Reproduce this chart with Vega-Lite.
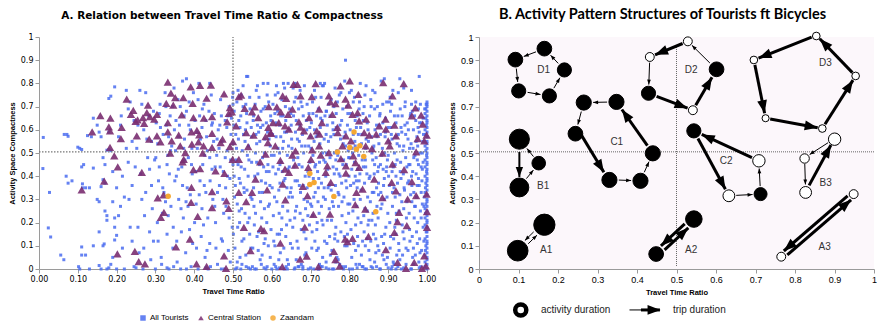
{
"$schema":"https://vega.github.io/schema/vega-lite/v6.json",
"background":"white",
"padding":{"left":8,"top":6,"right":0,"bottom":0},
"spacing":12,
"resolve":{"scale":{"color":"independent","shape":"independent","size":"independent","strokeWidth":"independent","fill":"independent"}},
"config":{"view":{"stroke":null},"axis":{"grid":false,"domainColor":"#9a9a9a","tickColor":"#9a9a9a","tickSize":4,"tickCount":12,"labelOverlap":false,"labelFlush":false,"labelPadding":2,"labelColor":"#000","titleColor":"#000","titleFont":"Liberation Sans","titleFontSize":7.5,"titleFontWeight":"bold","titlePadding":4}},
"datasets":{
"blue":[
{"x":0.011,"y":0.567},{"x":0.010,"y":0.433},{"x":0.027,"y":0.330},{"x":0.024,"y":0.177},{"x":0.030,"y":0.138},{"x":0.056,"y":0.060},{"x":0.064,"y":0.040},{"x":0.065,"y":0.580},{"x":0.072,"y":0.580},{"x":0.075,"y":0.572},{"x":0.070,"y":0.400},{"x":0.075,"y":0.370},{"x":0.085,"y":0.380},{"x":0.100,"y":0.525},{"x":0.105,"y":0.520},{"x":0.110,"y":0.515},{"x":0.110,"y":0.440},{"x":0.115,"y":0.450},{"x":0.112,"y":0.367},{"x":0.112,"y":0.350},{"x":0.102,"y":0.010},{"x":0.105,"y":0.000},{"x":0.110,"y":0.095},{"x":0.110,"y":0.060},{"x":0.120,"y":0.060},{"x":0.130,"y":0.000},{"x":0.125,"y":0.575},{"x":0.130,"y":0.350},{"x":0.140,"y":0.435},{"x":0.140,"y":0.100},{"x":0.150,"y":0.300},{"x":0.155,"y":0.290},{"x":0.155,"y":0.160},{"x":0.160,"y":0.355},{"x":0.165,"y":0.385},{"x":0.170,"y":0.370},{"x":0.170,"y":0.250},{"x":0.175,"y":0.230},{"x":0.175,"y":0.210},{"x":0.165,"y":0.100},{"x":0.168,"y":0.108},{"x":0.155,"y":0.015},{"x":0.160,"y":0.000},{"x":0.175,"y":0.000},{"x":0.180,"y":0.515},{"x":0.185,"y":0.510},{"x":0.175,"y":0.512},{"x":0.180,"y":0.590},{"x":0.150,"y":0.620},{"x":0.155,"y":0.590},{"x":0.140,"y":0.650},{"x":0.180,"y":0.735},{"x":0.185,"y":0.745},{"x":0.195,"y":0.785},{"x":0.190,"y":0.420},{"x":0.190,"y":0.290},{"x":0.195,"y":0.220},{"x":0.195,"y":0.180},{"x":0.195,"y":0.125},{"x":0.190,"y":0.050},{"x":0.185,"y":0.020},{"x":0.180,"y":0.005},{"x":0.200,"y":0.145},{"x":0.200,"y":0.350},{"x":0.170,"y":0.450},{"x":0.165,"y":0.480},{"x":0.160,"y":0.570},{"x":0.135,"y":0.570},{"x":0.120,"y":0.350},
{"x":0.205,"y":0.57},{"x":0.21,"y":0.62},{"x":0.215,"y":0.40},{"x":0.22,"y":0.31},{"x":0.225,"y":0.77},{"x":0.23,"y":0.69},{"x":0.235,"y":0.18},{"x":0.24,"y":0.55},{"x":0.245,"y":0.01},{"x":0.22,"y":0.0},{"x":0.21,"y":0.27},{"x":0.23,"y":0.46},{"x":0.24,"y":0.36},{"x":0.245,"y":0.64},{"x":0.215,"y":0.09},{"x":0.235,"y":0.72},{"x":0.225,"y":0.52},{"x":0.205,"y":0.23},{"x":0.24,"y":0.12},{"x":0.248,"y":0.44},{"x":0.212,"y":0.66},{"x":0.232,"y":0.30},
{"x":0.255,"y":0.18},{"x":0.26,"y":0.77},{"x":0.265,"y":0.30},{"x":0.27,"y":0.60},{"x":0.275,"y":0.76},{"x":0.28,"y":0.48},{"x":0.285,"y":0.16},{"x":0.29,"y":0.36},{"x":0.295,"y":0.68},{"x":0.252,"y":0.52},{"x":0.258,"y":0.07},{"x":0.262,"y":0.41},{"x":0.268,"y":0.0},{"x":0.272,"y":0.23},{"x":0.278,"y":0.56},{"x":0.283,"y":0.66},{"x":0.288,"y":0.04},{"x":0.292,"y":0.26},{"x":0.298,"y":0.47},{"x":0.255,"y":0.62},{"x":0.265,"y":0.71},{"x":0.275,"y":0.33},{"x":0.285,"y":0.43},{"x":0.295,"y":0.12},{"x":0.27,"y":0.09},{"x":0.29,"y":0.55},
{"x":0.302,"y":0.63},{"x":0.305,"y":0.20},{"x":0.31,"y":0.44},{"x":0.312,"y":0.71},{"x":0.315,"y":0.05},{"x":0.32,"y":0.58},{"x":0.322,"y":0.33},{"x":0.325,"y":0.76},{"x":0.33,"y":0.15},{"x":0.332,"y":0.49},{"x":0.335,"y":0.0},{"x":0.338,"y":0.66},{"x":0.34,"y":0.27},{"x":0.342,"y":0.53},{"x":0.345,"y":0.09},{"x":0.348,"y":0.78},{"x":0.35,"y":0.38},{"x":0.308,"y":0.38},{"x":0.318,"y":0.24},{"x":0.328,"y":0.62},{"x":0.336,"y":0.41},{"x":0.344,"y":0.70},{"x":0.306,"y":0.54},{"x":0.316,"y":0.02},{"x":0.326,"y":0.29},{"x":0.334,"y":0.57},{"x":0.346,"y":0.18},{"x":0.31,"y":0.67},{"x":0.33,"y":0.45},{"x":0.349,"y":0.60},
{"x":0.352,"y":0.51},{"x":0.355,"y":0.12},{"x":0.358,"y":0.73},{"x":0.36,"y":0.30},{"x":0.362,"y":0.62},{"x":0.365,"y":0.0},{"x":0.368,"y":0.44},{"x":0.37,"y":0.81},{"x":0.372,"y":0.22},{"x":0.375,"y":0.56},{"x":0.378,"y":0.07},{"x":0.38,"y":0.68},{"x":0.382,"y":0.35},{"x":0.385,"y":0.48},{"x":0.388,"y":0.17},{"x":0.39,"y":0.60},{"x":0.392,"y":0.01},{"x":0.395,"y":0.41},{"x":0.398,"y":0.76},{"x":0.354,"y":0.40},{"x":0.36,"y":0.57},{"x":0.366,"y":0.26},{"x":0.374,"y":0.66},{"x":0.384,"y":0.27},{"x":0.394,"y":0.52},{"x":0.356,"y":0.03},{"x":0.364,"y":0.70},{"x":0.376,"y":0.47},{"x":0.386,"y":0.62},{"x":0.396,"y":0.11},{"x":0.37,"y":0.36},{"x":0.39,"y":0.32},
{"x":0.402,"y":0.64},{"x":0.405,"y":0.28},{"x":0.408,"y":0.52},{"x":0.41,"y":0.0},{"x":0.412,"y":0.80},{"x":0.415,"y":0.38},{"x":0.418,"y":0.14},{"x":0.42,"y":0.61},{"x":0.422,"y":0.45},{"x":0.425,"y":0.71},{"x":0.428,"y":0.05},{"x":0.43,"y":0.33},{"x":0.432,"y":0.57},{"x":0.435,"y":0.22},{"x":0.438,"y":0.68},{"x":0.44,"y":0.48},{"x":0.442,"y":0.01},{"x":0.445,"y":0.62},{"x":0.448,"y":0.30},{"x":0.404,"y":0.42},{"x":0.414,"y":0.66},{"x":0.424,"y":0.19},{"x":0.434,"y":0.51},{"x":0.444,"y":0.75},{"x":0.406,"y":0.09},{"x":0.416,"y":0.56},{"x":0.426,"y":0.36},{"x":0.436,"y":0.0},{"x":0.446,"y":0.43},{"x":0.41,"y":0.73},{"x":0.43,"y":0.64},{"x":0.44,"y":0.11},{"x":0.42,"y":0.26},{"x":0.45,"y":0.55},
{"x":0.452,"y":0.67},{"x":0.455,"y":0.20},{"x":0.458,"y":0.49},{"x":0.46,"y":0.02},{"x":0.462,"y":0.60},{"x":0.465,"y":0.36},{"x":0.468,"y":0.73},{"x":0.47,"y":0.13},{"x":0.472,"y":0.55},{"x":0.475,"y":0.42},{"x":0.478,"y":0.0},{"x":0.48,"y":0.64},{"x":0.482,"y":0.27},{"x":0.485,"y":0.51},{"x":0.488,"y":0.08},{"x":0.49,"y":0.70},{"x":0.492,"y":0.39},{"x":0.495,"y":0.58},{"x":0.498,"y":0.18},{"x":0.454,"y":0.44},{"x":0.464,"y":0.52},{"x":0.474,"y":0.30},{"x":0.484,"y":0.61},{"x":0.494,"y":0.47},{"x":0.456,"y":0.09},{"x":0.466,"y":0.62},{"x":0.476,"y":0.24},{"x":0.486,"y":0.40},{"x":0.496,"y":0.65},{"x":0.46,"y":0.33},{"x":0.47,"y":0.66},{"x":0.48,"y":0.48},{"x":0.49,"y":0.22},{"x":0.499,"y":0.74},{"x":0.5,"y":0.76},{"x":0.5,"y":0.54},{"x":0.5,"y":0.71},{"x":0.5,"y":0.45},
{"x":0.502,"y":0.62},{"x":0.504,"y":0.31},{"x":0.506,"y":0.0},{"x":0.508,"y":0.47},{"x":0.51,"y":0.72},{"x":0.512,"y":0.18},{"x":0.514,"y":0.56},{"x":0.516,"y":0.39},{"x":0.518,"y":0.05},{"x":0.52,"y":0.66},{"x":0.522,"y":0.26},{"x":0.524,"y":0.51},{"x":0.526,"y":0.79},{"x":0.528,"y":0.13},{"x":0.53,"y":0.43},{"x":0.532,"y":0.60},{"x":0.534,"y":0.01},{"x":0.536,"y":0.34},{"x":0.538,"y":0.83},{"x":0.54,"y":0.53},{"x":0.542,"y":0.22},{"x":0.544,"y":0.69},{"x":0.546,"y":0.09},{"x":0.548,"y":0.46},{"x":0.503,"y":0.40},{"x":0.507,"y":0.58},{"x":0.511,"y":0.28},{"x":0.515,"y":0.64},{"x":0.519,"y":0.37},{"x":0.523,"y":0.02},{"x":0.527,"y":0.58},{"x":0.531,"y":0.24},{"x":0.535,"y":0.67},{"x":0.539,"y":0.40},{"x":0.543,"y":0.15},{"x":0.547,"y":0.61},{"x":0.549,"y":0.30},{"x":0.505,"y":0.09},{"x":0.513,"y":0.45},{"x":0.521,"y":0.75},{"x":0.529,"y":0.33},{"x":0.537,"y":0.49},{"x":0.545,"y":0.0},{"x":0.517,"y":0.20},{"x":0.533,"y":0.71},
{"x":0.552,"y":0.64},{"x":0.554,"y":0.27},{"x":0.556,"y":0.0},{"x":0.558,"y":0.50},{"x":0.56,"y":0.77},{"x":0.562,"y":0.14},{"x":0.564,"y":0.41},{"x":0.566,"y":0.59},{"x":0.568,"y":0.33},{"x":0.57,"y":0.04},{"x":0.572,"y":0.68},{"x":0.574,"y":0.22},{"x":0.576,"y":0.48},{"x":0.578,"y":0.80},{"x":0.58,"y":0.11},{"x":0.582,"y":0.56},{"x":0.584,"y":0.37},{"x":0.586,"y":0.63},{"x":0.588,"y":0.01},{"x":0.59,"y":0.45},{"x":0.592,"y":0.72},{"x":0.594,"y":0.28},{"x":0.596,"y":0.53},{"x":0.598,"y":0.17},{"x":0.553,"y":0.35},{"x":0.557,"y":0.71},{"x":0.561,"y":0.46},{"x":0.565,"y":0.08},{"x":0.569,"y":0.55},{"x":0.573,"y":0.38},{"x":0.577,"y":0.62},{"x":0.581,"y":0.26},{"x":0.585,"y":0.0},{"x":0.589,"y":0.59},{"x":0.593,"y":0.42},{"x":0.597,"y":0.66},{"x":0.555,"y":0.19},{"x":0.563,"y":0.62},{"x":0.571,"y":0.29},{"x":0.579,"y":0.44},{"x":0.587,"y":0.20},{"x":0.595,"y":0.36},{"x":0.559,"y":0.58},{"x":0.567,"y":0.74},{"x":0.575,"y":0.06},{"x":0.583,"y":0.70},{"x":0.591,"y":0.10},{"x":0.599,"y":0.49},
{"x":0.602,"y":0.58},{"x":0.604,"y":0.23},{"x":0.606,"y":0.02},{"x":0.608,"y":0.67},{"x":0.61,"y":0.41},{"x":0.612,"y":0.79},{"x":0.614,"y":0.15},{"x":0.616,"y":0.52},{"x":0.618,"y":0.34},{"x":0.62,"y":0.62},{"x":0.622,"y":0.07},{"x":0.624,"y":0.46},{"x":0.626,"y":0.73},{"x":0.628,"y":0.27},{"x":0.63,"y":0.55},{"x":0.632,"y":0.0},{"x":0.634,"y":0.39},{"x":0.636,"y":0.64},{"x":0.638,"y":0.19},{"x":0.64,"y":0.49},{"x":0.642,"y":0.80},{"x":0.644,"y":0.31},{"x":0.646,"y":0.60},{"x":0.648,"y":0.11},{"x":0.603,"y":0.44},{"x":0.607,"y":0.31},{"x":0.611,"y":0.57},{"x":0.615,"y":0.68},{"x":0.619,"y":0.24},{"x":0.623,"y":0.57},{"x":0.627,"y":0.42},{"x":0.631,"y":0.09},{"x":0.635,"y":0.70},{"x":0.639,"y":0.35},{"x":0.643,"y":0.53},{"x":0.647,"y":0.21},{"x":0.605,"y":0.12},{"x":0.613,"y":0.0},{"x":0.621,"y":0.37},{"x":0.629,"y":0.66},{"x":0.637,"y":0.01},{"x":0.645,"y":0.44},{"x":0.609,"y":0.75},{"x":0.617,"y":0.43},{"x":0.625,"y":0.17},{"x":0.633,"y":0.59},{"x":0.641,"y":0.25},{"x":0.649,"y":0.67},{"x":0.62,"y":0.50},{"x":0.64,"y":0.04},
{"x":0.652,"y":0.52},{"x":0.654,"y":0.18},{"x":0.656,"y":0.66},{"x":0.658,"y":0.0},{"x":0.66,"y":0.38},{"x":0.662,"y":0.74},{"x":0.664,"y":0.27},{"x":0.666,"y":0.56},{"x":0.668,"y":0.09},{"x":0.67,"y":0.45},{"x":0.672,"y":0.62},{"x":0.674,"y":0.33},{"x":0.676,"y":0.02},{"x":0.678,"y":0.70},{"x":0.68,"y":0.21},{"x":0.682,"y":0.50},{"x":0.684,"y":0.79},{"x":0.686,"y":0.40},{"x":0.688,"y":0.13},{"x":0.69,"y":0.60},{"x":0.692,"y":0.29},{"x":0.694,"y":0.0},{"x":0.696,"y":0.67},{"x":0.698,"y":0.46},{"x":0.653,"y":0.31},{"x":0.657,"y":0.44},{"x":0.661,"y":0.59},{"x":0.665,"y":0.12},{"x":0.669,"y":0.69},{"x":0.673,"y":0.24},{"x":0.677,"y":0.53},{"x":0.681,"y":0.36},{"x":0.685,"y":0.06},{"x":0.689,"y":0.64},{"x":0.693,"y":0.42},{"x":0.697,"y":0.19},{"x":0.655,"y":0.78},{"x":0.663,"y":0.04},{"x":0.671,"y":0.36},{"x":0.679,"y":0.58},{"x":0.687,"y":0.26},{"x":0.695,"y":0.53},{"x":0.659,"y":0.22},{"x":0.667,"y":0.48},{"x":0.675,"y":0.72},{"x":0.683,"y":0.16},{"x":0.691,"y":0.35},{"x":0.699,"y":0.57},{"x":0.66,"y":0.80},{"x":0.68,"y":0.01},{"x":0.7,"y":0.28},{"x":0.65,"y":0.62},
{"x":0.702,"y":0.63},{"x":0.704,"y":0.16},{"x":0.706,"y":0.49},{"x":0.708,"y":0.0},{"x":0.71,"y":0.77},{"x":0.712,"y":0.33},{"x":0.714,"y":0.57},{"x":0.716,"y":0.08},{"x":0.718,"y":0.42},{"x":0.72,"y":0.69},{"x":0.722,"y":0.24},{"x":0.724,"y":0.54},{"x":0.726,"y":0.01},{"x":0.728,"y":0.37},{"x":0.73,"y":0.64},{"x":0.732,"y":0.19},{"x":0.734,"y":0.47},{"x":0.736,"y":0.80},{"x":0.738,"y":0.30},{"x":0.74,"y":0.58},{"x":0.742,"y":0.11},{"x":0.744,"y":0.43},{"x":0.746,"y":0.71},{"x":0.748,"y":0.26},{"x":0.703,"y":0.27},{"x":0.707,"y":0.39},{"x":0.711,"y":0.12},{"x":0.715,"y":0.66},{"x":0.719,"y":0.29},{"x":0.723,"y":0.46},{"x":0.727,"y":0.74},{"x":0.731,"y":0.05},{"x":0.735,"y":0.56},{"x":0.739,"y":0.40},{"x":0.743,"y":0.62},{"x":0.747,"y":0.0},{"x":0.705,"y":0.72},{"x":0.713,"y":0.45},{"x":0.721,"y":0.0},{"x":0.729,"y":0.21},{"x":0.737,"y":0.66},{"x":0.745,"y":0.35},{"x":0.709,"y":0.55},{"x":0.717,"y":0.20},{"x":0.725,"y":0.61},{"x":0.733,"y":0.31},{"x":0.741,"y":0.50},{"x":0.749,"y":0.14},{"x":0.71,"y":0.60},{"x":0.73,"y":0.79},{"x":0.72,"y":0.09},{"x":0.74,"y":0.03},{"x":0.75,"y":0.48},{"x":0.72,"y":0.35},{"x":0.74,"y":0.68},
{"x":0.752,"y":0.57},{"x":0.754,"y":0.21},{"x":0.756,"y":0.0},{"x":0.758,"y":0.44},{"x":0.76,"y":0.70},{"x":0.762,"y":0.13},{"x":0.764,"y":0.36},{"x":0.766,"y":0.61},{"x":0.768,"y":0.05},{"x":0.77,"y":0.49},{"x":0.772,"y":0.27},{"x":0.774,"y":0.75},{"x":0.776,"y":0.40},{"x":0.778,"y":0.16},{"x":0.78,"y":0.64},{"x":0.782,"y":0.01},{"x":0.784,"y":0.54},{"x":0.786,"y":0.31},{"x":0.788,"y":0.81},{"x":0.79,"y":0.90},{"x":0.792,"y":0.45},{"x":0.794,"y":0.10},{"x":0.796,"y":0.67},{"x":0.798,"y":0.24},{"x":0.753,"y":0.34},{"x":0.757,"y":0.63},{"x":0.761,"y":0.50},{"x":0.765,"y":0.18},{"x":0.769,"y":0.72},{"x":0.773,"y":0.41},{"x":0.777,"y":0.56},{"x":0.781,"y":0.29},{"x":0.785,"y":0.0},{"x":0.789,"y":0.59},{"x":0.793,"y":0.35},{"x":0.797,"y":0.51},{"x":0.755,"y":0.08},{"x":0.763,"y":0.78},{"x":0.771,"y":0.33},{"x":0.779,"y":0.47},{"x":0.787,"y":0.14},{"x":0.795,"y":0.62},{"x":0.759,"y":0.27},{"x":0.767,"y":0.43},{"x":0.775,"y":0.02},{"x":0.783,"y":0.69},{"x":0.791,"y":0.20},{"x":0.799,"y":0.40},{"x":0.76,"y":0.58},{"x":0.78,"y":0.37},{"x":0.8,"y":0.76},{"x":0.77,"y":0.12},{"x":0.79,"y":0.53},{"x":0.75,"y":0.66},{"x":0.785,"y":0.47},{"x":0.765,"y":0.03},
{"x":0.802,"y":0.60},{"x":0.804,"y":0.17},{"x":0.806,"y":0.43},{"x":0.808,"y":0.0},{"x":0.81,"y":0.72},{"x":0.812,"y":0.30},{"x":0.814,"y":0.55},{"x":0.816,"y":0.08},{"x":0.818,"y":0.38},{"x":0.82,"y":0.66},{"x":0.822,"y":0.22},{"x":0.824,"y":0.49},{"x":0.826,"y":0.02},{"x":0.828,"y":0.80},{"x":0.83,"y":0.34},{"x":0.832,"y":0.58},{"x":0.834,"y":0.12},{"x":0.836,"y":0.44},{"x":0.838,"y":0.70},{"x":0.84,"y":0.26},{"x":0.842,"y":0.52},{"x":0.844,"y":0.0},{"x":0.846,"y":0.63},{"x":0.848,"y":0.19},{"x":0.803,"y":0.36},{"x":0.807,"y":0.52},{"x":0.811,"y":0.11},{"x":0.815,"y":0.64},{"x":0.819,"y":0.27},{"x":0.823,"y":0.58},{"x":0.827,"y":0.41},{"x":0.831,"y":0.06},{"x":0.835,"y":0.67},{"x":0.839,"y":0.37},{"x":0.843,"y":0.56},{"x":0.847,"y":0.31},{"x":0.805,"y":0.77},{"x":0.813,"y":0.46},{"x":0.821,"y":0.14},{"x":0.829,"y":0.61},{"x":0.837,"y":0.23},{"x":0.845,"y":0.41},{"x":0.809,"y":0.25},{"x":0.817,"y":0.02},{"x":0.825,"y":0.69},{"x":0.833,"y":0.47},{"x":0.841,"y":0.10},{"x":0.849,"y":0.55},{"x":0.80,"y":0.48},{"x":0.82,"y":0.35},{"x":0.84,"y":0.75},{"x":0.83,"y":0.20},{"x":0.85,"y":0.08},{"x":0.81,"y":0.58},{"x":0.826,"y":0.53},{"x":0.842,"y":0.44},{"x":0.835,"y":0.01},{"x":0.815,"y":0.40},
{"x":0.852,"y":0.66},{"x":0.854,"y":0.29},{"x":0.856,"y":0.01},{"x":0.858,"y":0.50},{"x":0.86,"y":0.77},{"x":0.862,"y":0.15},{"x":0.864,"y":0.41},{"x":0.866,"y":0.60},{"x":0.868,"y":0.07},{"x":0.87,"y":0.35},{"x":0.872,"y":0.70},{"x":0.874,"y":0.22},{"x":0.876,"y":0.54},{"x":0.878,"y":0.0},{"x":0.88,"y":0.45},{"x":0.882,"y":0.81},{"x":0.884,"y":0.28},{"x":0.886,"y":0.63},{"x":0.888,"y":0.11},{"x":0.89,"y":0.39},{"x":0.892,"y":0.57},{"x":0.894,"y":0.18},{"x":0.896,"y":0.72},{"x":0.898,"y":0.47},{"x":0.853,"y":0.40},{"x":0.857,"y":0.57},{"x":0.861,"y":0.24},{"x":0.865,"y":0.69},{"x":0.869,"y":0.48},{"x":0.873,"y":0.10},{"x":0.877,"y":0.62},{"x":0.881,"y":0.33},{"x":0.885,"y":0.52},{"x":0.889,"y":0.04},{"x":0.893,"y":0.65},{"x":0.897,"y":0.31},{"x":0.855,"y":0.12},{"x":0.863,"y":0.53},{"x":0.871,"y":0.27},{"x":0.879,"y":0.67},{"x":0.887,"y":0.43},{"x":0.895,"y":0.02},{"x":0.859,"y":0.33},{"x":0.867,"y":0.19},{"x":0.875,"y":0.44},{"x":0.883,"y":0.14},{"x":0.891,"y":0.50},{"x":0.899,"y":0.24},{"x":0.86,"y":0.47},{"x":0.88,"y":0.58},{"x":0.87,"y":0.62},{"x":0.89,"y":0.30},{"x":0.85,"y":0.21},{"x":0.9,"y":0.61},{"x":0.875,"y":0.37},{"x":0.865,"y":0.03},{"x":0.885,"y":0.06},{"x":0.895,"y":0.42},{"x":0.855,"y":0.73},{"x":0.89,"y":0.82},
{"x":0.902,"y":0.55},{"x":0.904,"y":0.20},{"x":0.906,"y":0.68},{"x":0.908,"y":0.0},{"x":0.91,"y":0.42},{"x":0.912,"y":0.77},{"x":0.914,"y":0.13},{"x":0.916,"y":0.50},{"x":0.918,"y":0.31},{"x":0.92,"y":0.63},{"x":0.922,"y":0.06},{"x":0.924,"y":0.37},{"x":0.926,"y":0.58},{"x":0.928,"y":0.25},{"x":0.93,"y":0.82},{"x":0.932,"y":0.46},{"x":0.934,"y":0.0},{"x":0.936,"y":0.66},{"x":0.938,"y":0.16},{"x":0.94,"y":0.53},{"x":0.942,"y":0.34},{"x":0.944,"y":0.72},{"x":0.946,"y":0.09},{"x":0.948,"y":0.44},{"x":0.903,"y":0.36},{"x":0.907,"y":0.61},{"x":0.911,"y":0.27},{"x":0.915,"y":0.02},{"x":0.919,"y":0.57},{"x":0.923,"y":0.47},{"x":0.927,"y":0.11},{"x":0.931,"y":0.69},{"x":0.935,"y":0.29},{"x":0.939,"y":0.41},{"x":0.943,"y":0.62},{"x":0.947,"y":0.22},{"x":0.905,"y":0.09},{"x":0.913,"y":0.44},{"x":0.921,"y":0.21},{"x":0.929,"y":0.53},{"x":0.937,"y":0.06},{"x":0.945,"y":0.58},{"x":0.909,"y":0.71},{"x":0.917,"y":0.18},{"x":0.925,"y":0.66},{"x":0.933,"y":0.39},{"x":0.941,"y":0.13},{"x":0.949,"y":0.63},{"x":0.90,"y":0.49},{"x":0.92,"y":0.40},{"x":0.94,"y":0.26},{"x":0.93,"y":0.32},{"x":0.91,"y":0.56},{"x":0.95,"y":0.37},{"x":0.925,"y":0.01},{"x":0.945,"y":0.48},{"x":0.915,"y":0.35},{"x":0.935,"y":0.59},{"x":0.905,"y":0.74},{"x":0.94,"y":0.78},{"x":0.92,"y":0.15},{"x":0.93,"y":0.04},
{"x":0.952,"y":0.60},{"x":0.954,"y":0.24},{"x":0.956,"y":0.45},{"x":0.958,"y":0.0},{"x":0.96,"y":0.71},{"x":0.962,"y":0.14},{"x":0.964,"y":0.52},{"x":0.966,"y":0.33},{"x":0.968,"y":0.66},{"x":0.97,"y":0.06},{"x":0.972,"y":0.41},{"x":0.974,"y":0.57},{"x":0.976,"y":0.20},{"x":0.978,"y":0.69},{"x":0.98,"y":0.36},{"x":0.982,"y":0.50},{"x":0.984,"y":0.01},{"x":0.986,"y":0.63},{"x":0.988,"y":0.28},{"x":0.953,"y":0.38},{"x":0.957,"y":0.66},{"x":0.961,"y":0.29},{"x":0.965,"y":0.09},{"x":0.969,"y":0.49},{"x":0.973,"y":0.31},{"x":0.977,"y":0.61},{"x":0.981,"y":0.13},{"x":0.985,"y":0.44},{"x":0.989,"y":0.55},{"x":0.955,"y":0.17},{"x":0.963,"y":0.42},{"x":0.971,"y":0.64},{"x":0.979,"y":0.03},{"x":0.987,"y":0.38},{"x":0.959,"y":0.54},{"x":0.967,"y":0.22},{"x":0.975,"y":0.47},{"x":0.983,"y":0.71},{"x":0.951,"y":0.08},{"x":0.96,"y":0.40},{"x":0.97,"y":0.27},{"x":0.98,"y":0.59},{"x":0.99,"y":0.18},{"x":0.965,"y":0.60},{"x":0.975,"y":0.11},{"x":0.985,"y":0.33},{"x":0.955,"y":0.52},{"x":0.99,"y":0.46},{"x":0.98,"y":0.83},{"x":0.96,"y":0.77},{"x":0.985,"y":0.22},{"x":0.975,"y":0.36},{"x":0.965,"y":0.02},{"x":0.99,"y":0.65},{"x":0.958,"y":0.32},{"x":0.972,"y":0.55},{"x":0.982,"y":0.07},{"x":0.988,"y":0.50},{"x":0.962,"y":0.68},{"x":0.978,"y":0.45},
{"x":1.0,"y":0.0},{"x":1.0,"y":0.02},{"x":1.0,"y":0.04},{"x":1.0,"y":0.05},{"x":1.0,"y":0.07},{"x":1.0,"y":0.09},{"x":1.0,"y":0.11},{"x":1.0,"y":0.12},{"x":1.0,"y":0.14},{"x":1.0,"y":0.16},{"x":1.0,"y":0.18},{"x":1.0,"y":0.2},{"x":1.0,"y":0.21},{"x":1.0,"y":0.23},{"x":1.0,"y":0.25},{"x":1.0,"y":0.27},{"x":1.0,"y":0.29},{"x":1.0,"y":0.3},{"x":1.0,"y":0.32},{"x":1.0,"y":0.34},{"x":1.0,"y":0.36},{"x":1.0,"y":0.38},{"x":1.0,"y":0.39},{"x":1.0,"y":0.41},{"x":1.0,"y":0.43},{"x":1.0,"y":0.45},{"x":1.0,"y":0.46},{"x":1.0,"y":0.48},{"x":1.0,"y":0.5},{"x":1.0,"y":0.52},{"x":1.0,"y":0.54},{"x":1.0,"y":0.55},{"x":1.0,"y":0.57},{"x":1.0,"y":0.59},{"x":1.0,"y":0.61},{"x":1.0,"y":0.63},{"x":1.0,"y":0.64},{"x":1.0,"y":0.66},{"x":1.0,"y":0.68},{"x":1.0,"y":0.7},{"x":1.0,"y":0.71},{"x":1.0,"y":0.72},
{"x":0.995,"y":0.01},{"x":0.995,"y":0.06},{"x":0.995,"y":0.13},{"x":0.995,"y":0.19},{"x":0.995,"y":0.26},{"x":0.995,"y":0.33},{"x":0.995,"y":0.4},{"x":0.995,"y":0.47},{"x":0.995,"y":0.53},{"x":0.995,"y":0.6},{"x":0.995,"y":0.67},{"x":0.995,"y":0.03},{"x":0.995,"y":0.22},{"x":0.995,"y":0.44},{"x":0.997,"y":0.1},{"x":0.997,"y":0.28},{"x":0.997,"y":0.37},{"x":0.997,"y":0.51},{"x":0.997,"y":0.58},{"x":0.997,"y":0.65},{"x":0.997,"y":0.69},
{"x":0.51,"y":0.005},{"x":0.52,"y":0.0},{"x":0.54,"y":0.005},{"x":0.56,"y":0.0},{"x":0.58,"y":0.005},{"x":0.6,"y":0.0},{"x":0.62,"y":0.005},{"x":0.64,"y":0.0},{"x":0.66,"y":0.005},{"x":0.68,"y":0.0},{"x":0.7,"y":0.005},{"x":0.72,"y":0.0},{"x":0.74,"y":0.005},{"x":0.76,"y":0.0},{"x":0.78,"y":0.005},{"x":0.8,"y":0.0},{"x":0.82,"y":0.005},{"x":0.84,"y":0.0},{"x":0.86,"y":0.005},{"x":0.88,"y":0.0},{"x":0.9,"y":0.005},{"x":0.92,"y":0.0},{"x":0.94,"y":0.005},{"x":0.96,"y":0.0},{"x":0.98,"y":0.005},{"x":0.47,"y":0.0},{"x":0.43,"y":0.005},{"x":0.38,"y":0.0},{"x":0.33,"y":0.005},{"x":0.3,"y":0.0},{"x":0.25,"y":0.005},{"x":0.2,"y":0.0},{"x":0.61,"y":0.01},{"x":0.73,"y":0.01},{"x":0.87,"y":0.01},{"x":0.91,"y":0.01},{"x":0.55,"y":0.01},{"x":0.67,"y":0.01},{"x":0.79,"y":0.01},{"x":0.535,"y":0.83},{"x":0.38,"y":0.82},{"x":0.44,"y":0.80},{"x":0.59,"y":0.80},{"x":0.63,"y":0.80},
{"x":0.501,"y":0.15},{"x":0.503,"y":0.68},{"x":0.506,"y":0.36},{"x":0.509,"y":0.52},{"x":0.511,"y":0.03},{"x":0.513,"y":0.77},{"x":0.516,"y":0.25},{"x":0.518,"y":0.61},{"x":0.521,"y":0.44},{"x":0.523,"y":0.12},{"x":0.526,"y":0.70},{"x":0.528,"y":0.35},{"x":0.531,"y":0.55},{"x":0.533,"y":0.06},{"x":0.536,"y":0.63},{"x":0.538,"y":0.20},{"x":0.541,"y":0.47},{"x":0.543,"y":0.74},{"x":0.546,"y":0.31},{"x":0.548,"y":0.57},{"x":0.551,"y":0.09},{"x":0.553,"y":0.66},{"x":0.556,"y":0.40},{"x":0.558,"y":0.24},{"x":0.561,"y":0.54},{"x":0.563,"y":0.79},{"x":0.566,"y":0.16},{"x":0.568,"y":0.45},{"x":0.571,"y":0.61},{"x":0.573,"y":0.02},{"x":0.576,"y":0.33},{"x":0.578,"y":0.69},{"x":0.581,"y":0.50},{"x":0.583,"y":0.13},{"x":0.586,"y":0.42},{"x":0.588,"y":0.75},{"x":0.591,"y":0.27},{"x":0.593,"y":0.56},{"x":0.596,"y":0.05},{"x":0.598,"y":0.64},
{"x":0.601,"y":0.35},{"x":0.603,"y":0.71},{"x":0.606,"y":0.49},{"x":0.608,"y":0.10},{"x":0.611,"y":0.63},{"x":0.613,"y":0.29},{"x":0.616,"y":0.76},{"x":0.618,"y":0.04},{"x":0.621,"y":0.45},{"x":0.623,"y":0.66},{"x":0.626,"y":0.22},{"x":0.628,"y":0.52},{"x":0.631,"y":0.38},{"x":0.633,"y":0.78},{"x":0.636,"y":0.14},{"x":0.638,"y":0.59},{"x":0.641,"y":0.43},{"x":0.643,"y":0.02},{"x":0.646,"y":0.69},{"x":0.648,"y":0.33},{"x":0.651,"y":0.56},{"x":0.653,"y":0.09},{"x":0.656,"y":0.47},{"x":0.658,"y":0.72},{"x":0.661,"y":0.25},{"x":0.663,"y":0.64},{"x":0.666,"y":0.38},{"x":0.668,"y":0.01},{"x":0.671,"y":0.55},{"x":0.673,"y":0.77},{"x":0.676,"y":0.17},{"x":0.678,"y":0.44},{"x":0.681,"y":0.66},{"x":0.683,"y":0.30},{"x":0.686,"y":0.53},{"x":0.688,"y":0.07},{"x":0.691,"y":0.71},{"x":0.693,"y":0.23},{"x":0.696,"y":0.40},{"x":0.698,"y":0.61},{"x":0.65,"y":0.35},{"x":0.62,"y":0.15},
{"x":0.701,"y":0.52},{"x":0.703,"y":0.09},{"x":0.706,"y":0.67},{"x":0.708,"y":0.31},{"x":0.711,"y":0.44},{"x":0.713,"y":0.74},{"x":0.716,"y":0.17},{"x":0.718,"y":0.58},{"x":0.721,"y":0.39},{"x":0.723,"y":0.02},{"x":0.726,"y":0.65},{"x":0.728,"y":0.27},{"x":0.731,"y":0.50},{"x":0.733,"y":0.79},{"x":0.736,"y":0.12},{"x":0.738,"y":0.46},{"x":0.741,"y":0.68},{"x":0.743,"y":0.21},{"x":0.746,"y":0.55},{"x":0.748,"y":0.36},{"x":0.751,"y":0.06},{"x":0.753,"y":0.73},{"x":0.756,"y":0.29},{"x":0.758,"y":0.60},{"x":0.761,"y":0.41},{"x":0.763,"y":0.15},{"x":0.766,"y":0.67},{"x":0.768,"y":0.51},{"x":0.771,"y":0.04},{"x":0.773,"y":0.32},{"x":0.776,"y":0.62},{"x":0.778,"y":0.76},{"x":0.781,"y":0.23},{"x":0.783,"y":0.45},{"x":0.786,"y":0.57},{"x":0.788,"y":0.10},{"x":0.791,"y":0.38},{"x":0.793,"y":0.70},{"x":0.796,"y":0.28},{"x":0.798,"y":0.48},{"x":0.705,"y":0.23},{"x":0.735,"y":0.35},{"x":0.765,"y":0.47},{"x":0.795,"y":0.15},{"x":0.725,"y":0.80},
{"x":0.801,"y":0.28},{"x":0.803,"y":0.67},{"x":0.806,"y":0.05},{"x":0.808,"y":0.50},{"x":0.811,"y":0.37},{"x":0.813,"y":0.74},{"x":0.816,"y":0.19},{"x":0.818,"y":0.61},{"x":0.821,"y":0.43},{"x":0.823,"y":0.10},{"x":0.826,"y":0.72},{"x":0.828,"y":0.30},{"x":0.831,"y":0.54},{"x":0.833,"y":0.01},{"x":0.836,"y":0.64},{"x":0.838,"y":0.16},{"x":0.841,"y":0.47},{"x":0.843,"y":0.79},{"x":0.846,"y":0.25},{"x":0.848,"y":0.60},{"x":0.851,"y":0.39},{"x":0.853,"y":0.04},{"x":0.856,"y":0.70},{"x":0.858,"y":0.21},{"x":0.861,"y":0.52},{"x":0.863,"y":0.33},{"x":0.866,"y":0.76},{"x":0.868,"y":0.13},{"x":0.871,"y":0.57},{"x":0.873,"y":0.42},{"x":0.876,"y":0.08},{"x":0.878,"y":0.66},{"x":0.881,"y":0.26},{"x":0.883,"y":0.49},{"x":0.886,"y":0.71},{"x":0.888,"y":0.36},{"x":0.891,"y":0.15},{"x":0.893,"y":0.59},{"x":0.896,"y":0.44},{"x":0.898,"y":0.05},{"x":0.815,"y":0.53},{"x":0.845,"y":0.13},{"x":0.875,"y":0.32},{"x":0.825,"y":0.38},{"x":0.865,"y":0.45},
{"x":0.901,"y":0.40},{"x":0.903,"y":0.72},{"x":0.906,"y":0.14},{"x":0.908,"y":0.58},{"x":0.911,"y":0.33},{"x":0.913,"y":0.03},{"x":0.916,"y":0.66},{"x":0.918,"y":0.45},{"x":0.921,"y":0.24},{"x":0.923,"y":0.54},{"x":0.926,"y":0.76},{"x":0.928,"y":0.08},{"x":0.931,"y":0.42},{"x":0.933,"y":0.61},{"x":0.936,"y":0.19},{"x":0.938,"y":0.51},{"x":0.941,"y":0.35},{"x":0.943,"y":0.70},{"x":0.946,"y":0.02},{"x":0.948,"y":0.29},{"x":0.951,"y":0.56},{"x":0.953,"y":0.45},{"x":0.956,"y":0.12},{"x":0.958,"y":0.67},{"x":0.961,"y":0.36},{"x":0.963,"y":0.05},{"x":0.966,"y":0.48},{"x":0.968,"y":0.27},{"x":0.971,"y":0.72},{"x":0.973,"y":0.16},{"x":0.976,"y":0.53},{"x":0.978,"y":0.39},{"x":0.981,"y":0.63},{"x":0.983,"y":0.25},{"x":0.986,"y":0.08},{"x":0.988,"y":0.43},{"x":0.991,"y":0.58},{"x":0.993,"y":0.31},{"x":0.994,"y":0.69},{"x":0.992,"y":0.12},{"x":0.996,"y":0.35},{"x":0.998,"y":0.62},{"x":0.998,"y":0.16},{"x":0.999,"y":0.49},{"x":0.996,"y":0.08},{"x":0.994,"y":0.55},{"x":0.992,"y":0.27},{"x":0.999,"y":0.42},{"x":0.998,"y":0.71},{"x":0.996,"y":0.24},
{"x":0.301,"y":0.48},{"x":0.307,"y":0.12},{"x":0.313,"y":0.61},{"x":0.319,"y":0.35},{"x":0.327,"y":0.70},{"x":0.333,"y":0.23},{"x":0.339,"y":0.51},{"x":0.347,"y":0.01},{"x":0.353,"y":0.64},{"x":0.359,"y":0.43},{"x":0.367,"y":0.16},{"x":0.373,"y":0.52},{"x":0.379,"y":0.29},{"x":0.387,"y":0.72},{"x":0.393,"y":0.45},{"x":0.401,"y":0.20},{"x":0.407,"y":0.59},{"x":0.413,"y":0.32},{"x":0.421,"y":0.69},{"x":0.427,"y":0.49},{"x":0.433,"y":0.08},{"x":0.441,"y":0.38},{"x":0.447,"y":0.63},{"x":0.453,"y":0.27},{"x":0.459,"y":0.56},{"x":0.467,"y":0.44},{"x":0.473,"y":0.12},{"x":0.481,"y":0.35},{"x":0.487,"y":0.66},{"x":0.493,"y":0.03}
],
"tri":[
{"x":0.332,"y":0.806},{"x":0.391,"y":0.785},{"x":0.415,"y":0.792},{"x":0.443,"y":0.793},{"x":0.477,"y":0.755},{"x":0.521,"y":0.749},{"x":0.340,"y":0.758},{"x":0.351,"y":0.739},{"x":0.372,"y":0.739},{"x":0.226,"y":0.732},{"x":0.254,"y":0.643},{"x":0.237,"y":0.667},{"x":0.243,"y":0.684},{"x":0.137,"y":0.591},{"x":0.158,"y":0.661},{"x":0.184,"y":0.650},{"x":0.180,"y":0.613},{"x":0.183,"y":0.595},{"x":0.211,"y":0.562},{"x":0.194,"y":0.488},{"x":0.203,"y":0.440},{"x":0.168,"y":0.379},{"x":0.110,"y":0.341},{"x":0.268,"y":0.653},{"x":0.278,"y":0.674},{"x":0.281,"y":0.706},{"x":0.286,"y":0.657},{"x":0.297,"y":0.646},{"x":0.304,"y":0.574},{"x":0.313,"y":0.548},{"x":0.332,"y":0.591},{"x":0.332,"y":0.631},{"x":0.328,"y":0.714},{"x":0.346,"y":0.706},{"x":0.360,"y":0.577},{"x":0.364,"y":0.531},{"x":0.338,"y":0.499},{"x":0.370,"y":0.462},{"x":0.373,"y":0.473},{"x":0.368,"y":0.664},{"x":0.396,"y":0.714},{"x":0.398,"y":0.653},{"x":0.393,"y":0.591},{"x":0.407,"y":0.598},{"x":0.413,"y":0.578},{"x":0.425,"y":0.650},{"x":0.432,"y":0.736},{"x":0.411,"y":0.548},{"x":0.422,"y":0.499},{"x":0.398,"y":0.428},{"x":0.415,"y":0.433},{"x":0.393,"y":0.352},{"x":0.392,"y":0.287},{"x":0.409,"y":0.227},{"x":0.389,"y":0.129},{"x":0.353,"y":0.095},{"x":0.306,"y":0.307},{"x":0.321,"y":0.319},{"x":0.322,"y":0.244},{"x":0.314,"y":0.222},{"x":0.247,"y":0.076},{"x":0.202,"y":0.065},{"x":0.273,"y":0.022},{"x":0.257,"y":0.032},{"x":0.406,"y":0.022},{"x":0.432,"y":0.011},{"x":0.446,"y":0.585},{"x":0.446,"y":0.657},{"x":0.455,"y":0.423},{"x":0.446,"y":0.333},{"x":0.446,"y":0.265},{"x":0.483,"y":0.294},{"x":0.489,"y":0.261},{"x":0.478,"y":0.412},{"x":0.468,"y":0.545},{"x":0.492,"y":0.696},{"x":0.489,"y":0.671},{"x":0.497,"y":0.677},{"x":0.485,"y":0.634},{"x":0.500,"y":0.549},{"x":0.492,"y":0.527},{"x":0.499,"y":0.473},{"x":0.477,"y":0.057},{"x":0.482,"y":0.003},{"x":0.508,"y":0.617},{"x":0.515,"y":0.473},{"x":0.515,"y":0.330},{"x":0.515,"y":0.743},{"x":0.530,"y":0.692},{"x":0.534,"y":0.588},{"x":0.539,"y":0.527},{"x":0.534,"y":0.290},{"x":0.528,"y":0.179},{"x":0.545,"y":0.079},{"x":0.549,"y":0.330},{"x":0.553,"y":0.577},{"x":0.565,"y":0.653},{"x":0.570,"y":0.462},{"x":0.572,"y":0.175},{"x":0.580,"y":0.165},{"x":0.588,"y":0.341},{"x":0.584,"y":0.571},{"x":0.590,"y":0.545},{"x":0.597,"y":0.588},{"x":0.603,"y":0.631},{"x":0.598,"y":0.585},{"x":0.592,"y":0.700},{"x":0.613,"y":0.699},{"x":0.628,"y":0.746},{"x":0.637,"y":0.735},{"x":0.623,"y":0.677},{"x":0.642,"y":0.667},{"x":0.653,"y":0.689},{"x":0.656,"y":0.796},{"x":0.666,"y":0.796},{"x":0.674,"y":0.746},{"x":0.713,"y":0.799},{"x":0.703,"y":0.743},{"x":0.618,"y":0.631},{"x":0.609,"y":0.531},{"x":0.622,"y":0.468},{"x":0.634,"y":0.430},{"x":0.628,"y":0.366},{"x":0.653,"y":0.491},{"x":0.660,"y":0.448},{"x":0.670,"y":0.634},{"x":0.674,"y":0.611},{"x":0.683,"y":0.595},{"x":0.696,"y":0.653},{"x":0.700,"y":0.574},{"x":0.694,"y":0.438},{"x":0.701,"y":0.473},{"x":0.704,"y":0.514},{"x":0.680,"y":0.356},{"x":0.692,"y":0.316},{"x":0.685,"y":0.181},{"x":0.707,"y":0.235},{"x":0.690,"y":0.055},{"x":0.720,"y":0.010},{"x":0.673,"y":0.043},{"x":0.627,"y":0.010},{"x":0.622,"y":0.112},{"x":0.729,"y":0.631},{"x":0.722,"y":0.531},{"x":0.726,"y":0.491},{"x":0.739,"y":0.416},{"x":0.743,"y":0.445},{"x":0.752,"y":0.373},{"x":0.750,"y":0.237},{"x":0.760,"y":0.076},{"x":0.764,"y":0.040},{"x":0.775,"y":0.014},{"x":0.789,"y":0.129},{"x":0.795,"y":0.118},{"x":0.808,"y":0.132},{"x":0.747,"y":0.746},{"x":0.751,"y":0.720},{"x":0.764,"y":0.713},{"x":0.777,"y":0.789},{"x":0.790,"y":0.732},{"x":0.797,"y":0.706},{"x":0.801,"y":0.811},{"x":0.823,"y":0.753},{"x":0.808,"y":0.667},{"x":0.821,"y":0.674},{"x":0.825,"y":0.638},{"x":0.843,"y":0.646},{"x":0.756,"y":0.667},{"x":0.769,"y":0.610},{"x":0.770,"y":0.588},{"x":0.791,"y":0.574},{"x":0.804,"y":0.552},{"x":0.782,"y":0.531},{"x":0.778,"y":0.476},{"x":0.791,"y":0.445},{"x":0.791,"y":0.413},{"x":0.810,"y":0.488},{"x":0.816,"y":0.459},{"x":0.825,"y":0.438},{"x":0.818,"y":0.330},{"x":0.834,"y":0.344},{"x":0.815,"y":0.277},{"x":0.841,"y":0.258},{"x":0.849,"y":0.141},{"x":0.864,"y":0.387},{"x":0.851,"y":0.577},{"x":0.869,"y":0.581},{"x":0.858,"y":0.519},{"x":0.877,"y":0.617},{"x":0.893,"y":0.646},{"x":0.894,"y":0.603},{"x":0.900,"y":0.552},{"x":0.904,"y":0.531},{"x":0.885,"y":0.499},{"x":0.887,"y":0.803},{"x":0.911,"y":0.746},{"x":0.940,"y":0.799},{"x":0.916,"y":0.620},{"x":0.920,"y":0.574},{"x":0.911,"y":0.452},{"x":0.941,"y":0.428},{"x":0.909,"y":0.373},{"x":0.920,"y":0.337},{"x":0.885,"y":0.308},{"x":0.950,"y":0.301},{"x":0.972,"y":0.316},{"x":0.961,"y":0.377},{"x":0.928,"y":0.244},{"x":0.924,"y":0.204},{"x":0.916,"y":0.158},{"x":0.948,"y":0.187},{"x":0.894,"y":0.083},{"x":0.924,"y":0.029},{"x":0.946,"y":0.003},{"x":0.970,"y":0.694},{"x":0.961,"y":0.660},{"x":0.985,"y":0.663},{"x":0.989,"y":0.624},{"x":0.976,"y":0.562},{"x":0.972,"y":0.505},{"x":0.993,"y":0.552},{"x":0.999,"y":0.577},{"x":0.999,"y":0.323},{"x":1.000,"y":0.247},{"x":1.000,"y":0.179},{"x":0.993,"y":0.057},{"x":0.997,"y":0.014},{"x":0.987,"y":0.003},{"x":0.967,"y":0.029},{"x":0.842,"y":0.531},{"x":0.838,"y":0.588},{"x":0.722,"y":0.689},{"x":0.716,"y":0.595},{"x":0.723,"y":0.581},{"x":0.644,"y":0.603},{"x":0.634,"y":0.617},{"x":0.661,"y":0.509},{"x":0.635,"y":0.298},{"x":0.584,"y":0.495},{"x":0.549,"y":0.677},{"x":0.556,"y":0.699},{"x":0.394,"y":0.538},{"x":0.377,"y":0.502},{"x":0.424,"y":0.531},{"x":0.446,"y":0.524},{"x":0.342,"y":0.552},{"x":0.304,"y":0.667},{"x":0.271,"y":0.628},{"x":0.284,"y":0.560},{"x":0.252,"y":0.574},{"x":0.265,"y":0.416},{"x":0.183,"y":0.524},{"x":0.213,"y":0.610},{"x":0.249,"y":0.636},{"x":0.473,"y":0.560},{"x":0.558,"y":0.387},{"x":0.591,"y":0.610},{"x":0.644,"y":0.416},{"x":0.747,"y":0.502}
],
"orange":[
{"x":0.333,"y":0.314},{"x":0.698,"y":0.412},{"x":0.698,"y":0.364},{"x":0.709,"y":0.373},{"x":0.760,"y":0.313},{"x":0.769,"y":0.504},{"x":0.812,"y":0.591},{"x":0.801,"y":0.524},{"x":0.818,"y":0.516},{"x":0.827,"y":0.531},{"x":0.837,"y":0.485},{"x":0.868,"y":0.247}
],
"nodes":[
{"x":0.0921,"y":0.9024,"dur":21.7,"t":"b"},{"x":0.1655,"y":0.9498,"dur":21.7,"t":"b"},{"x":0.2162,"y":0.8580,"dur":20,"t":"b"},{"x":0.1005,"y":0.7676,"dur":20,"t":"b"},{"x":0.1782,"y":0.7461,"dur":20,"t":"b"},
{"x":0.2652,"y":0.7174,"dur":23,"t":"b"},{"x":0.3480,"y":0.7202,"dur":23,"t":"b"},{"x":0.2441,"y":0.5832,"dur":21.7,"t":"b"},{"x":0.4400,"y":0.4986,"dur":23,"t":"b"},{"x":0.3302,"y":0.3838,"dur":23,"t":"b"},{"x":0.4088,"y":0.3802,"dur":23,"t":"b"},
{"x":0.5287,"y":0.9813,"dur":7.9,"t":"w"},{"x":0.4324,"y":0.9139,"dur":7.9,"t":"w"},{"x":0.6014,"y":0.8608,"dur":21.7,"t":"b"},{"x":0.4291,"y":0.7575,"dur":20,"t":"b"},{"x":0.5414,"y":0.6844,"dur":7.9,"t":"w"},
{"x":0.8539,"y":1.0043,"dur":5.9,"t":"w"},{"x":0.6959,"y":0.9010,"dur":5.9,"t":"w"},{"x":0.9535,"y":0.8322,"dur":5.9,"t":"w"},{"x":0.7255,"y":0.6499,"dur":5,"t":"w"},{"x":0.8691,"y":0.6055,"dur":5.9,"t":"w"},
{"x":0.1022,"y":0.5595,"dur":40.4,"t":"b"},{"x":0.1512,"y":0.4562,"dur":18.5,"t":"b"},{"x":0.1022,"y":0.3515,"dur":35.7,"t":"b"},
{"x":0.9003,"y":0.5595,"dur":15.4,"t":"w"},{"x":0.8243,"y":0.4763,"dur":8.9,"t":"w"},{"x":0.8269,"y":0.3300,"dur":14,"t":"w"},
{"x":0.5439,"y":0.5954,"dur":20.1,"t":"b"},{"x":0.7086,"y":0.4663,"dur":15.4,"t":"w"},{"x":0.6326,"y":0.3156,"dur":14,"t":"w"},{"x":0.7128,"y":0.3228,"dur":16.9,"t":"b"},
{"x":0.0980,"y":0.0789,"dur":42.7,"t":"b"},{"x":0.1655,"y":0.1908,"dur":45.2,"t":"b"},
{"x":0.4485,"y":0.0646,"dur":21.7,"t":"b"},{"x":0.5439,"y":0.2152,"dur":27.4,"t":"b"},
{"x":0.7652,"y":0.0531,"dur":7.9,"t":"w"},{"x":0.9485,"y":0.3228,"dur":7.9,"t":"w"}
],
"edges":[
{"x1":0.1443,"y1":0.9360,"x2":0.1133,"y2":0.9162,"trip":1},{"x1":0.0945,"y1":0.8638,"x2":0.0980,"y2":0.8062,"trip":1},{"x1":0.1230,"y1":0.7614,"x2":0.1557,"y2":0.7522,"trip":1},{"x1":0.1896,"y1":0.7796,"x2":0.2048,"y2":0.8244,"trip":1},{"x1":0.2006,"y1":0.8862,"x2":0.1812,"y2":0.9215,"trip":1},
{"x1":0.3243,"y1":0.7194,"x2":0.2889,"y2":0.7182,"trip":1},{"x1":0.2590,"y1":0.6786,"x2":0.2503,"y2":0.6227,"trip":1},{"x1":0.2581,"y1":0.5802,"x2":0.3162,"y2":0.4169,"trip":3},{"x1":0.3539,"y1":0.3834,"x2":0.3851,"y2":0.3813,"trip":1},{"x1":0.4184,"y1":0.4169,"x2":0.4304,"y2":0.4628,"trip":1},{"x1":0.4264,"y1":0.5320,"x2":0.3617,"y2":0.6875,"trip":3},
{"x1":0.5155,"y1":0.9720,"x2":0.4457,"y2":0.9232,"trip":3},{"x1":0.4319,"y1":0.8895,"x2":0.4299,"y2":0.7948,"trip":1},{"x1":0.4496,"y1":0.7442,"x2":0.5280,"y2":0.6931,"trip":3},{"x1":0.5486,"y1":0.7055,"x2":0.5899,"y2":0.8270,"trip":3},{"x1":0.5845,"y1":0.8879,"x2":0.5390,"y2":0.9643,"trip":1},
{"x1":0.8421,"y1":0.9993,"x2":0.7077,"y2":0.9089,"trip":3},{"x1":0.6984,"y1":0.8799,"x2":0.7231,"y2":0.6710,"trip":3},{"x1":0.7372,"y1":0.6463,"x2":0.8574,"y2":0.6090,"trip":3},{"x1":0.8758,"y1":0.6237,"x2":0.9468,"y2":0.8139,"trip":3},{"x1":0.9453,"y1":0.8466,"x2":0.8627,"y2":0.9927,"trip":3},
{"x1":0.1022,"y1":0.5043,"x2":0.1022,"y2":0.3967,"trip":2},{"x1":0.1200,"y1":0.3897,"x2":0.1378,"y2":0.4264,"trip":1},{"x1":0.1379,"y1":0.4845,"x2":0.1213,"y2":0.5194,"trip":1},
{"x1":0.8839,"y1":0.5445,"x2":0.8371,"y2":0.4933,"trip":1},{"x1":0.8247,"y1":0.4534,"x2":0.8264,"y2":0.3644,"trip":1},{"x1":0.8357,"y1":0.3605,"x2":0.8910,"y2":0.5346,"trip":3},
{"x1":0.6910,"y1":0.4801,"x2":0.5639,"y2":0.5798,"trip":3},{"x1":0.5543,"y1":0.5626,"x2":0.6238,"y2":0.3435,"trip":3},{"x1":0.6512,"y1":0.3174,"x2":0.6926,"y2":0.3210,"trip":1},{"x1":0.7118,"y1":0.3572,"x2":0.7093,"y2":0.4333,"trip":1},
{"x1":0.1245,"y1":0.1087,"x2":0.1467,"y2":0.1456,"trip":1},{"x1":0.1384,"y1":0.1600,"x2":0.1162,"y2":0.1231,"trip":1},
{"x1":0.4698,"y1":0.0825,"x2":0.5299,"y2":0.1775,"trip":3},{"x1":0.5208,"y1":0.1944,"x2":0.4606,"y2":0.0994,"trip":3},
{"x1":0.7805,"y1":0.0604,"x2":0.9420,"y2":0.2983,"trip":3},{"x1":0.9332,"y1":0.3155,"x2":0.7717,"y2":0.0776,"trip":3}
],
"labels":[
{"x":0.1639,"y":0.8565,"label":"D1"},{"x":0.3488,"y":0.5481,"label":"C1"},{"x":0.5372,"y":0.8580,"label":"D2"},{"x":0.8767,"y":0.8867,"label":"D3"},{"x":0.1622,"y":0.3558,"label":"B1"},{"x":0.6258,"y":0.4634,"label":"C2"},{"x":0.8775,"y":0.3687,"label":"B3"},{"x":0.1698,"y":0.0832,"label":"A1"},{"x":0.5372,"y":0.0832,"label":"A2"},{"x":0.8750,"y":0.0933,"label":"A3"}
]
},
"hconcat":[
{
"width":388,"height":232,
"title":{"text":"A. Relation between Travel Time Ratio & Compactness","font":"DejaVu Sans","fontSize":10.5,"fontWeight":"bold","color":"#000","anchor":"middle","frame":"bounds","offset":12},
"layer":[
{"data":{"name":"blue"},"mark":{"type":"point","filled":true,"size":9,"opacity":0.85},
"encoding":{
"x":{"field":"x","type":"quantitative","title":"Travel Time Ratio","scale":{"domain":[0,1]},"axis":{"values":[0,0.1,0.2,0.3,0.4,0.5,0.6,0.7,0.8,0.9,1],"tickCount":12,"format":".2f","labelFont":"DejaVu Sans","labelFontSize":8,"labelOverlap":false,"labelFlush":false}},
"y":{"field":"y","type":"quantitative","title":"Activity Space Compactness","scale":{"domain":[0,1]},"axis":{"values":[0,0.1,0.2,0.3,0.4,0.5,0.6,0.7,0.8,0.9,1],"tickCount":12,"format":"~g","labelFont":"DejaVu Sans","labelFontSize":8,"labelOverlap":false,"labelFlush":false}},
"color":{"datum":"All Tourists","type":"nominal","scale":{"domain":["All Tourists","Central Station","Zaandam"],"range":["#4a6cf0","#7a2e70","#f5a833"]},"legend":{"orient":"none","legendX":100,"legendY":277,"direction":"horizontal","title":null,"labelFont":"Liberation Sans","labelFontSize":8,"symbolSize":30,"labelOffset":3,"columnPadding":8}},
"shape":{"datum":"All Tourists","type":"nominal","scale":{"domain":["All Tourists","Central Station","Zaandam"],"range":["square","triangle-up","circle"]}}
}},
{"data":{"values":[{}]},"mark":{"type":"rule","color":"#777","strokeDash":[1.5,1.5],"strokeWidth":1.3},
"encoding":{"x":{"datum":0.5,"type":"quantitative","scale":{"domain":[0,1]}},"y":{"datum":0,"type":"quantitative","scale":{"domain":[0,1]}},"y2":{"datum":1}}},
{"data":{"values":[{}]},"mark":{"type":"rule","color":"#777","strokeDash":[1.5,1.5],"strokeWidth":1.3},
"encoding":{"y":{"datum":0.505,"type":"quantitative","scale":{"domain":[0,1]}},"x":{"datum":0,"type":"quantitative","scale":{"domain":[0,1]}},"x2":{"datum":1}}},
{"data":{"name":"tri"},"mark":{"type":"point","filled":true,"size":70,"opacity":0.9},
"encoding":{
"x":{"field":"x","type":"quantitative","title":"Travel Time Ratio","scale":{"domain":[0,1]}},
"y":{"field":"y","type":"quantitative","title":"Activity Space Compactness","scale":{"domain":[0,1]}},
"color":{"datum":"Central Station","type":"nominal"},
"shape":{"datum":"Central Station","type":"nominal"}
}},
{"data":{"name":"orange"},"mark":{"type":"point","filled":true,"size":30,"opacity":1},
"encoding":{
"x":{"field":"x","type":"quantitative","title":"Travel Time Ratio","scale":{"domain":[0,1]}},
"y":{"field":"y","type":"quantitative","title":"Activity Space Compactness","scale":{"domain":[0,1]}},
"color":{"datum":"Zaandam","type":"nominal"},
"shape":{"datum":"Zaandam","type":"nominal"}
}}
]
},
{
"width":395,"height":232,
"view":{"fill":"#fcf7fb","stroke":null},
"title":{"text":"B. Activity Pattern Structures of Tourists ft Bicycles","font":"Lato","fontSize":14.5,"fontWeight":"bold","color":"#000","anchor":"middle","frame":"bounds","offset":8},
"resolve":{"scale":{"size":"independent"}},
"layer":[
{"data":{"values":[{}]},"mark":{"type":"rule","color":"#666","strokeDash":[1,1],"strokeWidth":1},
"encoding":{"x":{"datum":0.5,"type":"quantitative","title":"Travel Time Ratio","scale":{"domain":[0,1]},"axis":{"values":[0,0.1,0.2,0.3,0.4,0.5,0.6,0.7,0.8,0.9,1],"tickCount":12,"format":"~g","labelFont":"Liberation Sans","labelFontSize":9,"labelOverlap":false,"labelFlush":false}},"y":{"datum":0.013,"type":"quantitative","title":"Activity Space Compactness","scale":{"domain":[0,1]},"axis":{"values":[0,0.1,0.2,0.3,0.4,0.5,0.6,0.7,0.8,0.9,1],"tickCount":12,"format":"~g","labelFont":"Liberation Sans","labelFontSize":9,"labelOverlap":false,"labelFlush":false}},"y2":{"datum":0.97}}},
{"data":{"values":[{}]},"mark":{"type":"rule","color":"#666","strokeDash":[1,1],"strokeWidth":1},
"encoding":{"y":{"datum":0.505,"type":"quantitative","scale":{"domain":[0,1]}},"x":{"datum":0,"type":"quantitative","scale":{"domain":[0,1]}},"x2":{"datum":1}}},
{"data":{"name":"edges"},"mark":{"type":"rule","color":"#000"},
"encoding":{
"x":{"field":"x1","type":"quantitative","title":"Travel Time Ratio","scale":{"domain":[0,1]}},
"y":{"field":"y1","type":"quantitative","title":"Activity Space Compactness","scale":{"domain":[0,1]}},
"x2":{"field":"x2"},"y2":{"field":"y2"},
"strokeWidth":{"field":"trip","type":"quantitative","scale":{"domain":[1,3],"range":[1,3]},"legend":null}
}},
{"data":{"name":"edges"},"mark":{"type":"point","filled":true,"color":"#000","opacity":1,"shape":"M0,0L-0.75,2L0.75,2Z","angle":{"expr":"atan2((datum.x2-datum.x1)*395,(datum.y2-datum.y1)*232)*180/PI"}},
"encoding":{
"x":{"field":"x2","type":"quantitative","title":"Travel Time Ratio","scale":{"domain":[0,1]}},
"y":{"field":"y2","type":"quantitative","title":"Activity Space Compactness","scale":{"domain":[0,1]}},
"size":{"field":"trip","type":"quantitative","scale":{"domain":[1,3],"range":[25,169]},"legend":null}
}},
{"data":{"name":"nodes"},"mark":{"type":"point","filled":true,"opacity":1,"stroke":"#000","strokeWidth":1},
"encoding":{
"x":{"field":"x","type":"quantitative","title":"Travel Time Ratio","scale":{"domain":[0,1]}},
"y":{"field":"y","type":"quantitative","title":"Activity Space Compactness","scale":{"domain":[0,1]}},
"fill":{"field":"t","type":"nominal","scale":{"domain":["b","w"],"range":["#000000","#ffffff"]},"legend":null},
"size":{"field":"dur","type":"quantitative","scale":{"domain":[0,50],"range":[0,500]},"legend":null}
}},
{"data":{"name":"labels"},"mark":{"type":"text","font":"Liberation Sans","fontSize":10,"color":"#333"},
"encoding":{
"x":{"field":"x","type":"quantitative","title":"Travel Time Ratio","scale":{"domain":[0,1]}},
"y":{"field":"y","type":"quantitative","title":"Activity Space Compactness","scale":{"domain":[0,1]}},
"text":{"field":"label"}
}},
{"data":{"values":[{}]},"mark":{"type":"point","filled":false,"fill":"#fff","stroke":"#000","strokeWidth":4.5,"size":123,"opacity":1},
"encoding":{"x":{"datum":0.1057,"type":"quantitative","scale":{"domain":[0,1]}},"y":{"datum":-0.1765,"type":"quantitative","scale":{"domain":[0,1]}}}},
{"data":{"values":[{}]},"mark":{"type":"text","font":"Liberation Sans","fontSize":10,"color":"#222","align":"left","baseline":"middle","text":"activity duration"},
"encoding":{"x":{"datum":0.1567,"type":"quantitative","scale":{"domain":[0,1]}},"y":{"datum":-0.1765,"type":"quantitative","scale":{"domain":[0,1]}}}},
{"data":{"values":[{}]},"mark":{"type":"rule","color":"#000","strokeWidth":1},
"encoding":{"x":{"datum":0.381,"type":"quantitative","scale":{"domain":[0,1]}},"x2":{"datum":0.415},"y":{"datum":-0.1765,"type":"quantitative","scale":{"domain":[0,1]}}}},
{"data":{"values":[{}]},"mark":{"type":"rule","color":"#000","strokeWidth":3},
"encoding":{"x":{"datum":0.41,"type":"quantitative","scale":{"domain":[0,1]}},"x2":{"datum":0.458},"y":{"datum":-0.1765,"type":"quantitative","scale":{"domain":[0,1]}}}},
{"data":{"values":[{}]},"mark":{"type":"point","filled":true,"color":"#000","opacity":1,"shape":"M0,0L-0.75,2L0.75,2Z","angle":90,"size":169},
"encoding":{"x":{"datum":0.4597,"type":"quantitative","scale":{"domain":[0,1]}},"y":{"datum":-0.1765,"type":"quantitative","scale":{"domain":[0,1]}}}},
{"data":{"values":[{}]},"mark":{"type":"text","font":"Liberation Sans","fontSize":10,"color":"#222","align":"left","baseline":"middle","text":"trip duration"},
"encoding":{"x":{"datum":0.4909,"type":"quantitative","scale":{"domain":[0,1]}},"y":{"datum":-0.1765,"type":"quantitative","scale":{"domain":[0,1]}}}}
]
}
]
}
